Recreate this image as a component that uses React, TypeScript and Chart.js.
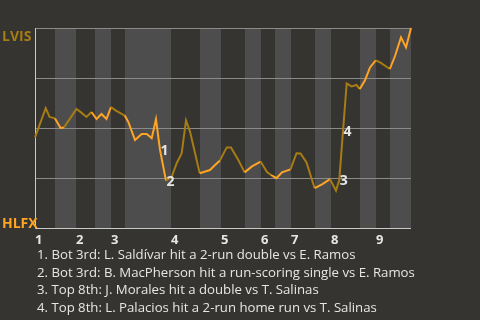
import React, { useEffect, useRef } from "react";
import { Chart, registerables } from "chart.js";

Chart.register(...registerables);

// ---------- data ----------
const TEAM_AWAY = "LVIS"; // top of chart (100%)
const TEAM_HOME = "HLFX"; // bottom of chart (0%)

// game progress (plate-appearance units) of each point
const progress = [
  0, 2.28, 3.09, 4.26, 5.43, 6.17, 8.83, 9.79, 10.96, 12.02, 13.09, 14.15, 15.21, 16.17,
  17.13, 19.1, 19.85, 21.28, 22.7, 23.77, 24.83, 25.74, 26.6, 27.87, 29.09, 30.15, 31.21,
  32.13, 32.98, 35.05, 37.23, 38.09, 39.36, 40.79, 41.7, 43.26, 44.6, 46.17, 48.0,
  49.36, 50.21, 51.38, 52.55, 54.36, 55.64, 56.49, 57.77, 59.5, 61.06, 62.77, 64.04, 64.74,
  65.53, 66.32, 67.34, 68.4, 69.1, 70.21, 71.28, 72.5, 73.51, 75.5, 76.6, 77.87, 78.94, 80,
];

// LVIS win probability (%) at each point
const lvisWinPct = [
  45.3, 59.9, 55.5, 54.8, 50, 50.3, 59.5, 57.8, 55.5, 58, 54.5, 57, 54.5, 60.5,
  58.8, 56.2, 53, 44, 47, 47, 44.9, 54.4, 39, 23.7, 25.7, 32.4, 37.4,
  53.8, 48.2, 27.4, 29, 31, 33.8, 40.3, 40.3, 34, 27.8, 30.8, 33.2,
  28, 26.5, 24.9, 27.8, 29.3, 37.4, 37.3, 32.8, 19.9, 21.8, 24.4, 18.7, 24,
  48.5, 72.3, 70.8, 71.5, 69.5, 73.9, 80.3, 83.8, 82.7, 79.5, 86, 95.3, 90.3, 100,
];

// start of each half inning (top 1, bot 1, top 2, ...), in progress units
const halfInningStarts = [
  0, 4.3, 8.7, 12.8, 16.2, 19.2, 28.9, 35.1, 39.6, 44.7, 48.1, 51.1, 54.5, 59.6, 63.0,
  69.15, 72.55, 75.5,
];
const gameEnd = 80;
const inningLabels = ["1", "2", "3", "4", "5", "6", "7", "8", "9"];
const gridPct = [25, 50, 75, 100];

// key events: index of point and note
const eventPoints = [22, 23, 51, 52];
const eventNotes = [
  "Bot 3rd: L. Saldívar hit a 2-run double vs E. Ramos",
  "Bot 3rd: B. MacPherson hit a run-scoring single vs E. Ramos",
  "Top 8th: J. Morales hit a double vs T. Salinas",
  "Top 8th: L. Palacios hit a 2-run home run vs T. Salinas",
];

// ---------- styles ----------
const BG = "#363430";
const BAND = "#4d4d4d";
const GRID = "#8a8a88";
const AXIS = "#c9c9c7";
const AWAY_COLOR = "#a67c14";
const HOME_COLOR = "#ffa424";
const TEXT = "#e6e6e6";
const FONT = "'Open Sans', 'Noto Sans', sans-serif";

function halfIndexOf(x: number): number {
  // half inning containing x, with intervals (start, end]
  let idx = 0;
  for (let i = 0; i < halfInningStarts.length; i++) {
    if (x > halfInningStarts[i]) idx = i;
  }
  return idx;
}

export default function App() {
  const canvasRef = useRef<HTMLCanvasElement | null>(null);

  useEffect(() => {
    document.body.style.margin = "0";
    document.body.style.background = BG;
    const canvas = canvasRef.current;
    if (!canvas) return;

    const decor = {
      id: "wpDecor",
      beforeDatasetsDraw(chart: any) {
        const { ctx, chartArea, scales } = chart;
        const xs = scales.x;
        const ys = scales.y;
        ctx.save();
        // bottom half-inning bands
        for (let i = 1; i < halfInningStarts.length; i += 2) {
          const s = halfInningStarts[i];
          const e = i + 1 < halfInningStarts.length ? halfInningStarts[i + 1] : gameEnd;
          const x0 = Math.round(xs.getPixelForValue(s));
          const x1 = Math.round(xs.getPixelForValue(e));
          ctx.fillStyle = BAND;
          ctx.fillRect(x0, chartArea.top, x1 - x0, chartArea.bottom - chartArea.top);
        }
        // horizontal grid lines
        ctx.strokeStyle = GRID;
        ctx.lineWidth = 1;
        for (const g of gridPct) {
          const y = Math.round(ys.getPixelForValue(g)) + 0.5;
          ctx.beginPath();
          ctx.moveTo(chartArea.left, y);
          ctx.lineTo(chartArea.right, y);
          ctx.stroke();
        }
        // axes
        ctx.strokeStyle = AXIS;
        const xl = Math.round(chartArea.left) + 0.5;
        const yb = Math.round(ys.getPixelForValue(0)) + 0.5;
        ctx.beginPath();
        ctx.moveTo(xl, chartArea.top);
        ctx.lineTo(xl, yb);
        ctx.lineTo(chartArea.right, yb);
        ctx.stroke();
        ctx.restore();
      },
      afterDatasetsDraw(chart: any) {
        const { ctx, scales } = chart;
        const xs = scales.x;
        const ys = scales.y;
        ctx.save();
        ctx.fillStyle = TEXT;
        ctx.font = `bold 14px ${FONT}`;
        ctx.textAlign = "left";
        ctx.textBaseline = "middle";
        eventPoints.forEach((pi, k) => {
          const px = xs.getPixelForValue(progress[pi]);
          const py = ys.getPixelForValue(lvisWinPct[pi]);
          ctx.fillText(String(k + 1), px + 0.5, py + 1);
        });
        // team labels
        ctx.font = `bold 14px ${FONT}`;
        ctx.textBaseline = "alphabetic";
        ctx.fillStyle = AWAY_COLOR;
        ctx.fillText(TEAM_AWAY, 2, ys.getPixelForValue(100) + 12.5);
        ctx.fillStyle = HOME_COLOR;
        ctx.fillText(TEAM_HOME, 2, ys.getPixelForValue(0));
        // inning labels
        ctx.fillStyle = TEXT;
        ctx.font = `bold 13px ${FONT}`;
        inningLabels.forEach((lab, i) => {
          const x = Math.round(xs.getPixelForValue(halfInningStarts[i * 2]));
          ctx.fillText(lab, x, ys.getPixelForValue(0) + 16);
        });
        ctx.restore();
      },
    };

    const chart = new Chart(canvas, {
      type: "line",
      data: {
        datasets: [
          {
            data: progress.map((x, i) => ({ x, y: lvisWinPct[i] })),
            borderWidth: 2,
            pointRadius: 0,
            tension: 0,
            fill: false,
            clip: false as any,
            borderColor: HOME_COLOR,
            segment: {
              borderColor: (c: any) =>
                halfIndexOf(c.p1.parsed.x) % 2 === 1 ? HOME_COLOR : AWAY_COLOR,
            },
          },
        ],
      },
      options: {
        responsive: false,
        animation: false,
        layout: { padding: { left: 35, top: 28, right: 69, bottom: 92 } },
        plugins: { legend: { display: false }, tooltip: { enabled: false } },
        scales: {
          x: { type: "linear", min: 0, max: gameEnd, display: false },
          y: { type: "linear", min: 0, max: 100, display: false },
        },
      },
      plugins: [decor],
    });
    return () => chart.destroy();
  }, []);

  return (
    <div style={{ position: "relative", width: 480, height: 320, background: BG, overflow: "hidden" }}>
      <canvas ref={canvasRef} width={480} height={320} style={{ display: "block" }} />
      <div
        style={{
          position: "absolute",
          left: 37,
          top: 246,
          color: TEXT,
          fontFamily: FONT,
          fontSize: 13.2,
          lineHeight: "17.7px",
          whiteSpace: "nowrap",
        }}
      >
        {eventNotes.map((n, i) => (
          <div key={i}>{`${i + 1}. ${n}`}</div>
        ))}
      </div>
    </div>
  );
}
